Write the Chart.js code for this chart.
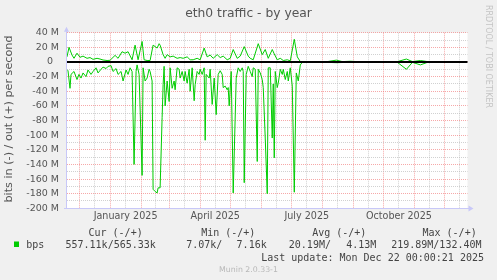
<!DOCTYPE html>
<html>
<head>
<meta charset="utf-8">
<script src="https://cdn.jsdelivr.net/npm/chart.js@4.4.1/dist/chart.umd.min.js"></script>
<style>
  html, body { margin: 0; padding: 0; background: #f0f0f0; }
  #wrap { width: 497px; height: 280px; }
</style>
</head>
<body>
<div id="wrap"><canvas id="traffic" width="497" height="280"></canvas></div>
<script>
// eth0 traffic by year, values in Mbit/s; day 0 = 2024-11-19
const outDays = [0,2,5,7,10,13,16,20,23,26, 30,33,36,40,43,48,51,55,58,61,
  65,68,71,75,77,80,83,86,90,92, 93,96,98,100,103,106,110,113,116,120,
  123,126,130,133,137,140,143,146,150,153, 156,160,163,166,170,173,177,181,183,186,
  191,195,198,201,205,207,210,213,216,220, 223,227,230,233,240,250,260,269,275,283,
  290,300,310,320,330,339,345,353,360,370, 380,390,398];
const outMbps = [7,20,9.5,5,12,6.4,8,5,6,3.6, 5,4,2.7,2,2.3,9,5,14,12,14,
  3,23,3,28,3,2,2,23,19,25, 23,10,5,10,7,8,5,6,5,7,
  3,3,5,3,19,7,9.5,5,10,6, 8,3,5,17,5,8,21,8,5,3,
  25,10,17,5,17,11,3,5,2,3, 1.5,31,7,0.5,0.6,0.4,0.5,2.5,0.5,1,
  0.5,0.4,0.6,0.5,0.5,4,0.5,2,0.5,0.4, 0.6,0.5,0.57];

const inDays = [0,1,3,4,7,10,12,14,16,19, 21,24,26,29,31,34,36,39,41,44,
  46,49,51,54,56,59,61,63,65,67, 69,70,72,75,76,78,80,82,83,85,
  86,88,90,91,93,95,96,97,98,100, 102,103,105,107,108,110,112,113,115,117,
  118,120,122,123,125,127,128,130,132,133, 135,137,138,139,142,143,145,147,149,151,
  153,155,156,158,160,161,162,164,166,169, 171,173,175,176,177,179,181,183,185,186,
  188,190,191,193,195,196,198,200,201,203, 205,206,207,208,210,211,213,215,216,218,
  220,221,223,225,227,229,231,233,235,240, 250,260,269,280,290,300,310,320,330,339,
  345,353,360,370,380,390,398];
const inMbps = [-10.5,-12,-36,-17,-13,-24,-17,-22,-15,-20, -11,-17,-13,-8,-15,-10,-7,-9,-6,-5,
  -13,-9,-17,-13,-26,-11,-17,-8,-13,-140, -13,-4,-17,-155,-8,-26,-22,-10,-13,-26,
  -174,-177,-179,-172,-172,-76,-31,-6,-60,-26, -54,-8,-36,-26,-38,-8,-10,-22,-13,-26,
  -13,-29,-10,-40,-8,-53,-31,-13,-17,-10, -17,-8,-107,-17,-22,-10,-58,-22,-72,-17,
  -12,-17,-35,-33,-38,-35,-60,-13,-179,-22, -8,-13,-8,-13,-165,-17,-6,-13,-20,-8,
  -10,-136,-10,-15,-24,-35,-104,-180,-8,-8, -104,-30,-131,-13,-35,-29,-10,-17,-10,-24,
  -13,-26,-8,-33,-178,-15,-26,-4,-0.5,-0.5, -0.4,-0.5,-1,-0.5,-0.5,-0.5,-0.6,-0.5,-0.5,-10,
  -0.5,-4,-0.5,-0.4,-0.6,-0.5,-0.55];

const xLabels = ['January 2025', 'April 2025', 'July 2025', 'October 2025'];
const xLabelMonths = [[2025, 0], [2025, 3], [2025, 6], [2025, 9]];
const legendHeads = ['Cur (-/+)', 'Min (-/+)', 'Avg (-/+)', 'Max (-/+)'];
const legendValues = ['557.11k/565.33k', '7.07k/', '7.16k', '20.19M/', '4.13M', '219.89M/132.40M'];
const lastUpdate = 'Last update: Mon Dec 22 00:00:21 2025';

const start = Date.UTC(2024, 10, 19);
const dayOf = (y, m) => (Date.UTC(y, m, 1) - start) / 864e5;

// month starts (red grid) and mid months (grey grid)
const monthStarts = [];
for (let m = 11; m <= 24; m++) monthStarts.push(dayOf(2024 + Math.floor(m / 12), m % 12));
const midMonths = [];
for (let i = 0; i < monthStarts.length - 1; i++) midMonths.push((monthStarts[i] + monthStarts[i + 1]) / 2);
const labelAt = new Map();
xLabelMonths.forEach(([y, m], i) => {
  const a = dayOf(y, m), b = dayOf(y, m + 1);
  labelAt.set((a + b) / 2, xLabels[i]);
});
const startSet = new Set(monthStarts);
const gridDays = monthStarts.concat(midMonths).filter(d => d > 0 && d < 400).sort((a, b) => a - b);

const RED = 'rgba(240,110,110,0.6)';
const GREY = 'rgba(185,185,185,0.65)';
const AXIS = '#c8c8f8';

const muninPlugin = {
  id: 'munin',
  beforeDraw(chart) {
    const { ctx, chartArea: a } = chart;
    ctx.save();
    ctx.fillStyle = '#f0f0f0';
    ctx.fillRect(0, 0, chart.width, chart.height);
    ctx.fillStyle = '#ffffff';
    ctx.fillRect(a.left, a.top, a.right - a.left, a.bottom - a.top);
    ctx.restore();
  },
  afterDatasetsDraw(chart) {
    const { ctx, chartArea: a, scales } = chart;
    const y0 = Math.round(scales.y.getPixelForValue(0));
    ctx.save();
    ctx.strokeStyle = '#000';
    ctx.lineWidth = 2;
    ctx.beginPath();
    ctx.moveTo(a.left, y0);
    ctx.lineTo(a.right, y0);
    ctx.stroke();
    ctx.restore();
  },
  afterDraw(chart) {
    const { ctx, chartArea: a } = chart;
    ctx.save();
    // axes with arrows
    ctx.strokeStyle = AXIS;
    ctx.fillStyle = AXIS;
    ctx.lineWidth = 1;
    ctx.beginPath();
    ctx.moveTo(a.left - 0.5, a.bottom + 0.5);
    ctx.lineTo(a.left - 0.5, a.top - 3);
    ctx.moveTo(a.left - 3, Math.round(a.bottom) + 0.5);
    ctx.lineTo(a.right + 2, Math.round(a.bottom) + 0.5);
    ctx.stroke();
    ctx.beginPath();
    ctx.moveTo(a.left - 3, a.top - 1);
    ctx.lineTo(a.left + 2, a.top - 1);
    ctx.lineTo(a.left - 0.5, a.top - 6);
    ctx.fill();
    const by = Math.round(a.bottom) + 0.5;
    ctx.beginPath();
    ctx.moveTo(a.right + 1, by - 3);
    ctx.lineTo(a.right + 1, by + 3);
    ctx.lineTo(a.right + 6, by);
    ctx.fill();

    // title
    ctx.fillStyle = '#555';
    ctx.textBaseline = 'middle';
    ctx.textAlign = 'center';
    ctx.font = '12.3px "DejaVu Sans"';
    ctx.fillText('eth0 traffic - by year', 248.5, 14);

    // y axis title
    ctx.save();
    ctx.translate(9.5, 119);
    ctx.rotate(-Math.PI / 2);
    ctx.font = '11.2px "DejaVu Sans"';
    ctx.fillText('bits in (-) / out (+) per second', 0, 0);
    ctx.restore();

    // rrdtool credit
    ctx.save();
    ctx.translate(488.5, 56.5);
    ctx.rotate(Math.PI / 2);
    ctx.fillStyle = '#c4c4c4';
    ctx.font = '8px "DejaVu Sans"';
    ctx.fillText('RRDTOOL / TOBI OETIKER', 0, 0);
    ctx.restore();

    // legend
    ctx.textAlign = 'left';
    ctx.fillStyle = '#444';
    ctx.font = '10px "DejaVu Sans Mono"';
    [88.5, 201.2, 312.2, 422.5].forEach((x, i) => ctx.fillText(legendHeads[i], x, 233.5));
    ctx.fillText('bps', 26.2, 245.5);
    [65.5, 186.2, 236.6, 288.8, 346.2, 391.2].forEach((x, i) => ctx.fillText(legendValues[i], x, 245.5));
    ctx.fillText(lastUpdate, 261.2, 258);
    ctx.fillStyle = '#00cc00';
    ctx.fillRect(14, 241.5, 5, 5.5);

    ctx.textAlign = 'center';
    ctx.fillStyle = '#b8b8b8';
    ctx.font = '7.8px "DejaVu Sans"';
    ctx.fillText('Munin 2.0.33-1', 248.5, 269.5);
    ctx.restore();
  }
};

new Chart(document.getElementById('traffic').getContext('2d'), {
  type: 'line',
  data: {
    datasets: [
      {
        label: 'out',
        data: outDays.map((d, i) => ({ x: d, y: outMbps[i] })),
        borderColor: '#00cc00',
        borderWidth: 1,
        pointRadius: 0,
        tension: 0,
        fill: false
      },
      {
        label: 'in',
        data: inDays.map((d, i) => ({ x: d, y: inMbps[i] })),
        borderColor: '#00cc00',
        borderWidth: 1,
        pointRadius: 0,
        tension: 0,
        fill: false
      }
    ]
  },
  options: {
    responsive: false,
    animation: false,
    devicePixelRatio: 1,
    layout: { padding: { left: 22, right: 29.5, top: 32.7, bottom: 0 } },
    plugins: { legend: { display: false }, title: { display: false }, tooltip: { enabled: false } },
    scales: {
      x: {
        type: 'linear',
        min: 0,
        max: 400,
        afterBuildTicks: s => { s.ticks = gridDays.map(v => ({ value: v })); },
        afterFit: s => { s.height = 71.7; },
        ticks: {
          autoSkip: false,
          maxRotation: 0,
          padding: 2,
          color: '#555',
          font: { family: 'DejaVu Sans', size: 9.6 },
          callback: v => labelAt.get(v) || ''
        },
        grid: {
          drawTicks: false,
          lineWidth: 1,
          color: c => (c.tick && startSet.has(c.tick.value)) ? RED : GREY
        },
        border: { display: false, dash: [1, 1] }
      },
      y: {
        min: -200,
        max: 40,
        afterFit: s => { s.width = 45; },
        ticks: {
          stepSize: 10,
          autoSkip: false,
          padding: 8,
          color: '#555',
          font: { family: 'DejaVu Sans', size: 9.5 },
          callback: v => (v % 20 !== 0) ? '' : (v === 0 ? '0  ' : v + ' M')
        },
        grid: {
          drawTicks: false,
          lineWidth: 1,
          color: c => {
            const v = c.tick ? c.tick.value : 0;
            if (v === -200) return 'transparent';
            return v % 20 === 0 ? RED : GREY;
          }
        },
        border: { display: false, dash: [1, 1] }
      }
    }
  },
  plugins: [muninPlugin]
});
</script>
</body>
</html>
